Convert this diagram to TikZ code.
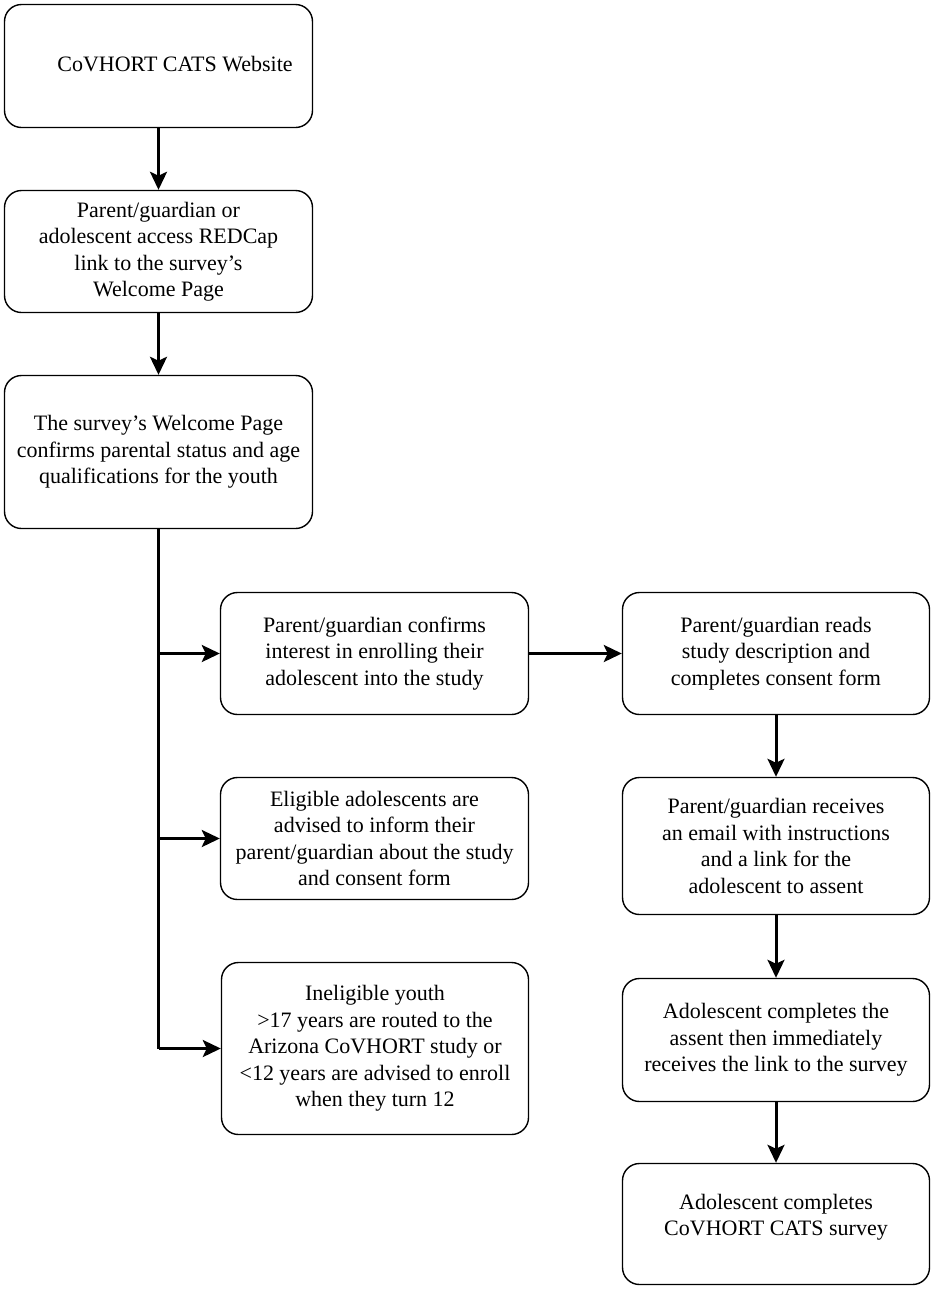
\documentclass[tikz,border=0pt]{standalone}
\usepackage{fontspec}
\setmainfont{Liberation Serif}
\usetikzlibrary{arrows.meta}
\tikzset{
  box/.style={draw, line width=1.4pt, rounded corners=17pt, inner sep=0pt, align=center,
    font=\fontsize{22}{26.5}\selectfont},
  conn/.style={line width=3pt, -{Stealth[length=18pt,width=17pt,inset=4pt]}},
  trunk/.style={line width=3pt}
}
\begin{document}
\begin{tikzpicture}[x=1pt,y=-1pt]
\useasboundingbox (0,0) rectangle (935,1291);
\node[box, minimum width=308pt, minimum height=123pt] (b1) at (158.5,66) {\hspace*{33pt}\raisebox{4pt}{CoVHORT CATS Website}};
\node[box, minimum width=308pt, minimum height=122pt] (b2) at (158.5,251.5) {Parent/guardian or\\adolescent access REDCap\\link to the survey's\\Welcome Page};
\node[box, minimum width=308pt, minimum height=153pt] (b3) at (158.5,452) {The survey's Welcome Page\\confirms parental status and age\\qualifications for the youth};
\node[box, minimum width=308pt, minimum height=122pt] (b4) at (374.5,653.5) {Parent/guardian confirms\\interest in enrolling their\\adolescent into the study};
\node[box, minimum width=307pt, minimum height=122pt] (b5) at (776,653.5) {Parent/guardian reads\\study description and\\completes consent form};
\node[box, minimum width=308pt, minimum height=122pt] (b6) at (374.5,838.5) {Eligible adolescents are\\advised to inform their\\parent/guardian about the study\\and consent form};
\node[box, minimum width=307pt, minimum height=137pt] (b7) at (776,846) {Parent/guardian receives\\an email with instructions\\and a link for the\\adolescent to assent};
\node[box, minimum width=307pt, minimum height=172pt] (b8) at (375,1048.5) {Ineligible youth\\>17 years are routed to the\\Arizona CoVHORT study or\\<12 years are advised to enroll\\when they turn 12};
\node[box, minimum width=307pt, minimum height=123pt] (b9) at (776,1040) {Adolescent completes the\\assent then immediately\\receives the link to the survey};
\node[box, minimum width=307pt, minimum height=121pt] (b10) at (776,1224) {Adolescent completes\\CoVHORT CATS survey\\[-8pt]\mbox{}};
\draw[conn] (b1) -- (b2);
\draw[conn] (b2) -- (b3);
\draw[trunk] (b3.south) -- (b3.south |- b8.west);
\draw[conn] (b3.south |- b4.west) -- (b4.west);
\draw[conn] (b3.south |- b6.west) -- (b6.west);
\draw[conn] (b3.south |- b8.west) -- (b8.west);
\draw[conn] (b4) -- (b5);
\draw[conn] (b5) -- (b7);
\draw[conn] (b7) -- (b9);
\draw[conn] (b9) -- (b10);
\end{tikzpicture}
\end{document}
